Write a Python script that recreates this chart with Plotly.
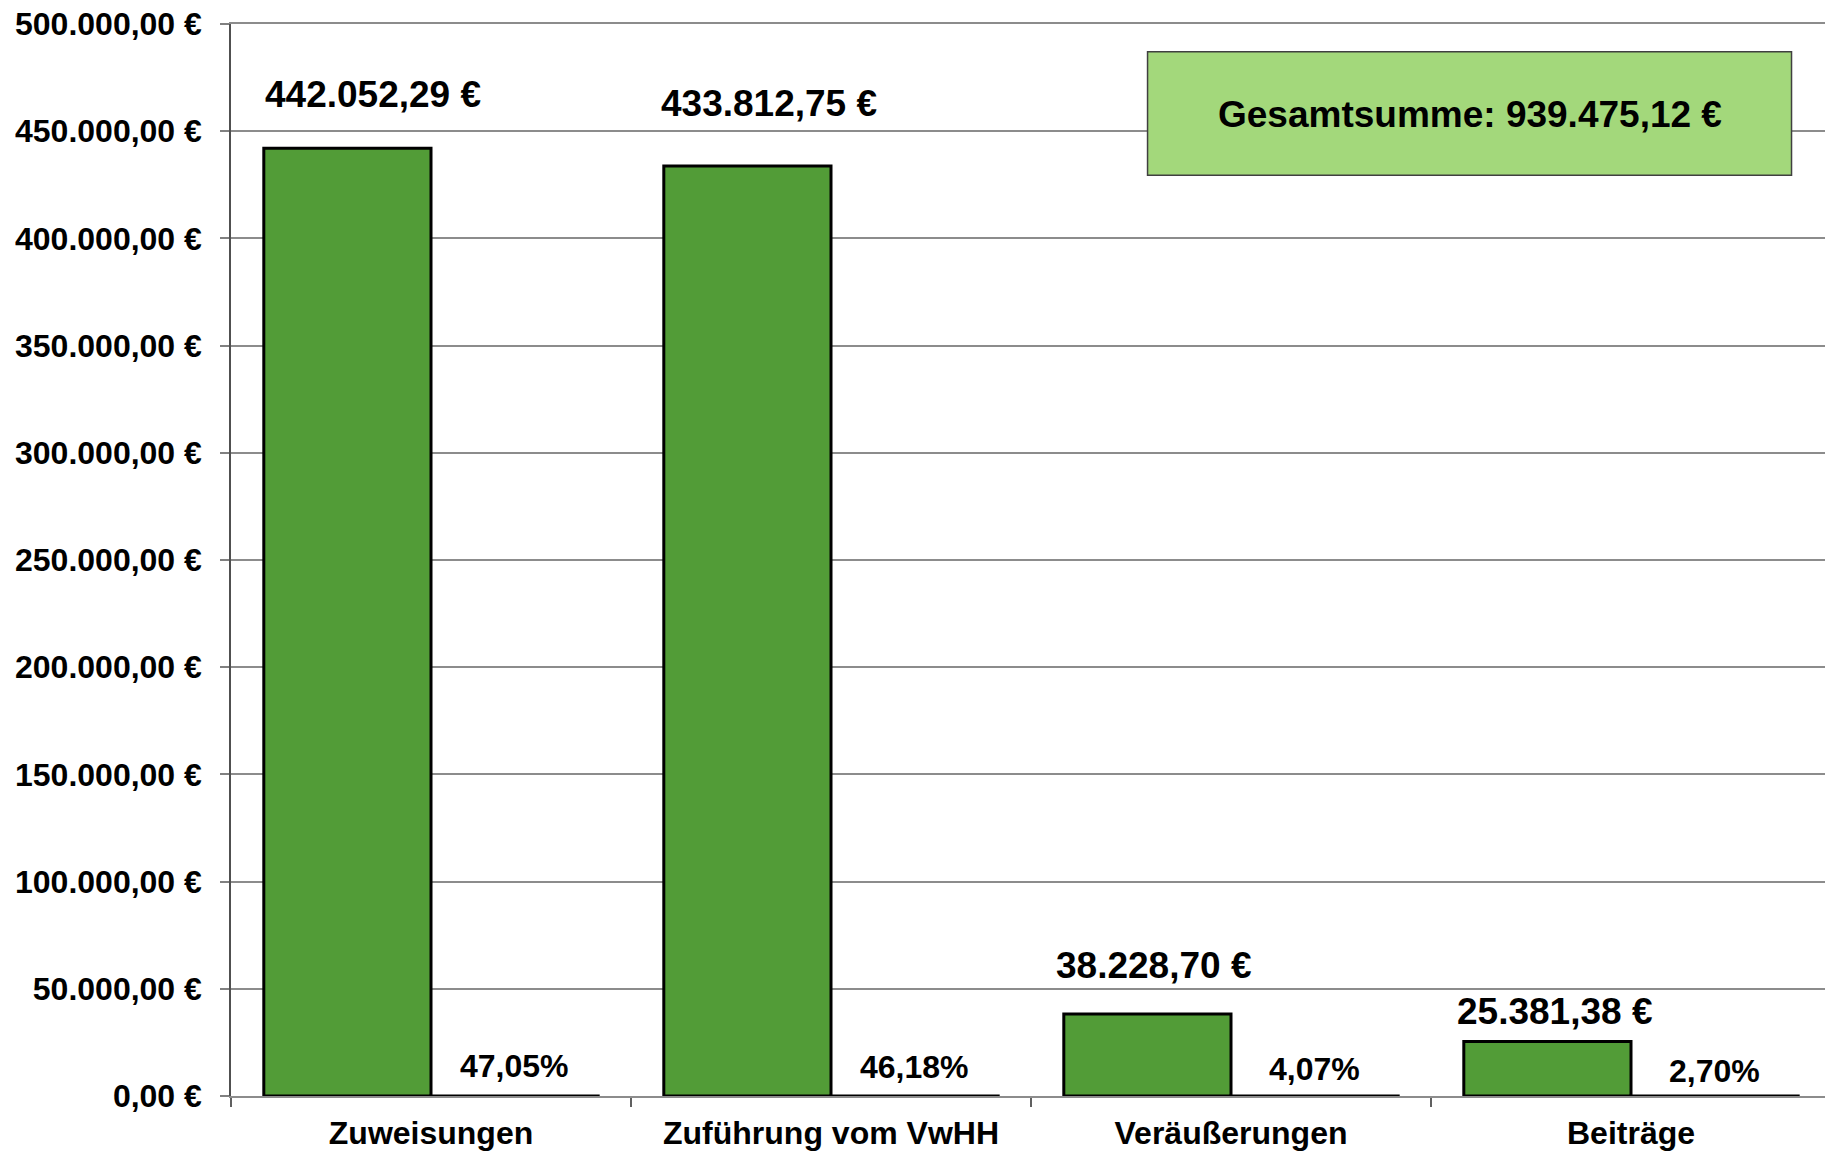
import plotly.graph_objects as go

# ---- data ----
categories = ["Zuweisungen", "Zuführung vom VwHH", "Veräußerungen", "Beiträge"]
betraege = [442052.29, 433812.75, 38228.70, 25381.38]
anteile = [47.05, 46.18, 4.07, 2.70]
gesamtsumme = 939475.12
y_ticks = [0, 50000, 100000, 150000, 200000, 250000, 300000, 350000, 400000, 450000, 500000]

# ---- label styling offsets (pixels) ----
value_label_dx = [26, 22, 6, 7]
value_label_dy = [54, 62, 49, 30]
pct_label_dy = [30, 29, 27, 25]


def de_num(v, decimals=2):
    s = f"{v:,.{decimals}f}"
    return s.replace(",", "X").replace(".", ",").replace("X", ".")


FONT = "Liberation Sans, Arial, sans-serif"
BAR_W = 0.418
x_pos = list(range(len(categories)))

fig = go.Figure()
fig.add_trace(go.Bar(
    x=x_pos, y=betraege, width=BAR_W, offset=-BAR_W,
    marker=dict(color="#529C37", line=dict(color="#000000", width=3)),
    hoverinfo="skip", showlegend=False,
))
fig.add_trace(go.Bar(
    x=x_pos, y=anteile, width=BAR_W, offset=0,
    marker=dict(color="#529C37", line=dict(color="#000000", width=3)),
    hoverinfo="skip", showlegend=False,
))

annotations = []
for i, (v, p) in enumerate(zip(betraege, anteile)):
    annotations.append(dict(
        x=i - BAR_W / 2, y=v, xref="x", yref="y",
        text=f"{de_num(v)} €", showarrow=False,
        xanchor="center", yanchor="middle",
        xshift=value_label_dx[i], yshift=value_label_dy[i],
        font=dict(family=FONT, size=37, color="#000000", weight="bold"),
    ))
    annotations.append(dict(
        x=i + BAR_W / 2, y=p, xref="x", yref="y",
        text=f"{de_num(p)}%", showarrow=False,
        xanchor="center", yanchor="middle",
        yshift=pct_label_dy[i],
        font=dict(family=FONT, size=32, color="#000000", weight="bold"),
    ))

annotations.append(dict(
    x=0.777, y=0.916, xref="paper", yref="paper",
    xanchor="center", yanchor="middle",
    text=f"Gesamtsumme: {de_num(gesamtsumme)} €", showarrow=False,
    font=dict(family=FONT, size=37, color="#000000", weight="bold"),
))

fig.update_layout(
    width=1825, height=1151,
    margin=dict(l=231, r=0, t=24, b=55),
    paper_bgcolor="white", plot_bgcolor="white",
    barmode="overlay",
    annotations=annotations,
    shapes=[dict(
        type="rect", xref="paper", yref="paper",
        x0=0.575, x1=0.979, y0=0.859, y1=0.974,
        fillcolor="#A3D87B", line=dict(color="#404040", width=1.5),
        layer="above",
    )],
    font=dict(family=FONT, color="#000000"),
)

fig.update_xaxes(
    automargin=False,
    range=[-0.5, 3.485],
    tickmode="array", tickvals=x_pos, ticktext=categories,
    ticks="", showgrid=False, zeroline=False,
    showline=True, mirror=True, linecolor="#8C8C8C", linewidth=1.5,
    tickfont=dict(family=FONT, size=32, color="#000000", weight="bold"),
    ticklabelstandoff=8,
    minor=dict(tickmode="array", tickvals=[-0.5, 0.5, 1.5, 2.5], ticks="outside",
               ticklen=9, tickcolor="#606060", tickwidth=1.5, showgrid=False),
)

fig.update_yaxes(
    automargin=False,
    range=[0, 500000],
    tickmode="array", tickvals=y_ticks,
    ticktext=[f"{de_num(t)} €" for t in y_ticks],
    ticks="outside", ticklen=9, tickcolor="#808080", tickwidth=1.5,
    showgrid=True, gridcolor="#8C8C8C", gridwidth=1.5,
    zeroline=False,
    showline=True, linecolor="#505050", linewidth=1.5,
    tickfont=dict(family=FONT, size=32, color="#000000", weight="bold"),
    ticklabelstandoff=12,
    ticklabeloverflow="allow",
)

fig.write_html(
    "out.html",
    config={"displayModeBar": False},
    post_script="document.body.style.margin='0';",
)
